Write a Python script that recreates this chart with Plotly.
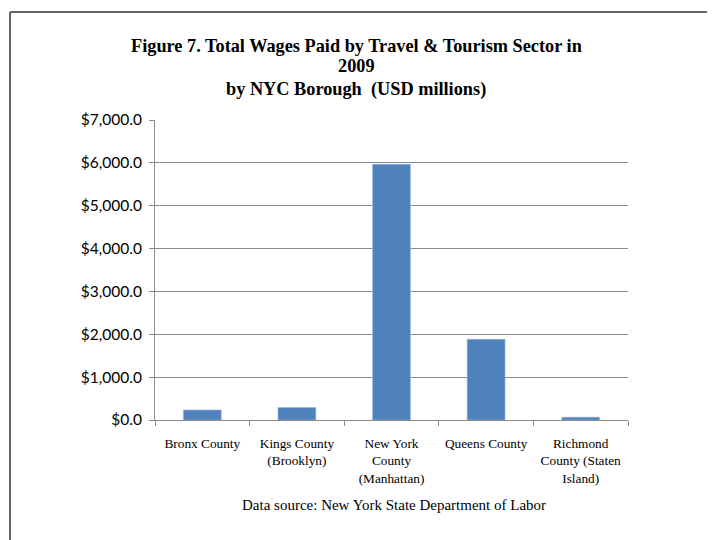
import plotly.graph_objects as go

categories = ["Bronx County", "Kings County (Brooklyn)", "New York County (Manhattan)",
              "Queens County", "Richmond County (Staten Island)"]
tick_labels = ["Bronx County", "Kings County<br>(Brooklyn)", "New York<br>County<br>(Manhattan)",
               "Queens County", "Richmond<br>County (Staten<br>Island)"]
wages = [235, 290, 5965, 1885, 65]
y_ticks = [0, 1000, 2000, 3000, 4000, 5000, 6000, 7000]
title_lines = ["Figure 7. Total Wages Paid by Travel & Tourism Sector in", "2009",
               "by NYC Borough  (USD millions)"]
source_text = "Data source: New York State Department of Labor"

OFF = 8  # page body margin offset
W, H = 715 - OFF, 540 - OFF
L, T = 155 - OFF, 120 - OFF
R = W - (628 - OFF)
B = H - (420 - OFF)
pw, ph = W - L - R, H - T - B

def px(x):
    return (x - OFF - L) / pw

def py(y):
    return (H - B - (y - OFF)) / ph

fig = go.Figure(go.Bar(
    x=categories, y=wages,
    marker=dict(color="#4F81BD", line=dict(color="#9DB6D8", width=0.6)),
))

grid_col = "#8C8C8C"
fig.update_layout(
    width=W, height=H,
    margin=dict(l=L, r=R, t=T, b=B),
    paper_bgcolor="white", plot_bgcolor="white",
    bargap=0.6,
    showlegend=False,
    xaxis=dict(
        tickmode="array", tickvals=categories, ticktext=tick_labels,
        tickson="boundaries", ticks="outside", ticklen=5, tickcolor=grid_col,
        ticklabelstandoff=11,
        showline=True, linecolor=grid_col, linewidth=1, showgrid=False,
        tickfont=dict(family="Liberation Serif", size=13.3, color="black"),
    ),
    yaxis=dict(
        range=[0, 7000], tickvals=y_ticks, tickformat="$,.1f",
        ticks="outside", ticklen=5, tickcolor=grid_col,
        ticklabelstandoff=4,
        showline=True, linecolor=grid_col, linewidth=1,
        showgrid=True, gridcolor=grid_col, gridwidth=1,
        zeroline=False,
        tickfont=dict(family="Lato", size=15.5, color="black"),
    ),
)

title_y = [46, 66, 89]
for txt, yy in zip(title_lines, title_y):
    fig.add_annotation(text="<b>" + txt + "</b>", xref="paper", yref="paper",
                       x=px(356), y=py(yy), xanchor="center", yanchor="middle",
                       showarrow=False,
                       font=dict(family="Liberation Serif", size=18.3, color="black"))

fig.add_annotation(text=source_text, xref="paper", yref="paper",
                   x=px(394), y=py(505), xanchor="center", yanchor="middle",
                   showarrow=False,
                   font=dict(family="Liberation Serif", size=15, color="black"))

border = "#666666"
fig.add_shape(type="line", xref="paper", yref="paper",
              x0=px(10), x1=px(10), y0=py(12), y1=py(545),
              line=dict(color=border, width=2))
fig.add_shape(type="line", xref="paper", yref="paper",
              x0=px(10), x1=px(720), y0=py(12), y1=py(12),
              line=dict(color=border, width=2))

fig.write_html("out.html")
